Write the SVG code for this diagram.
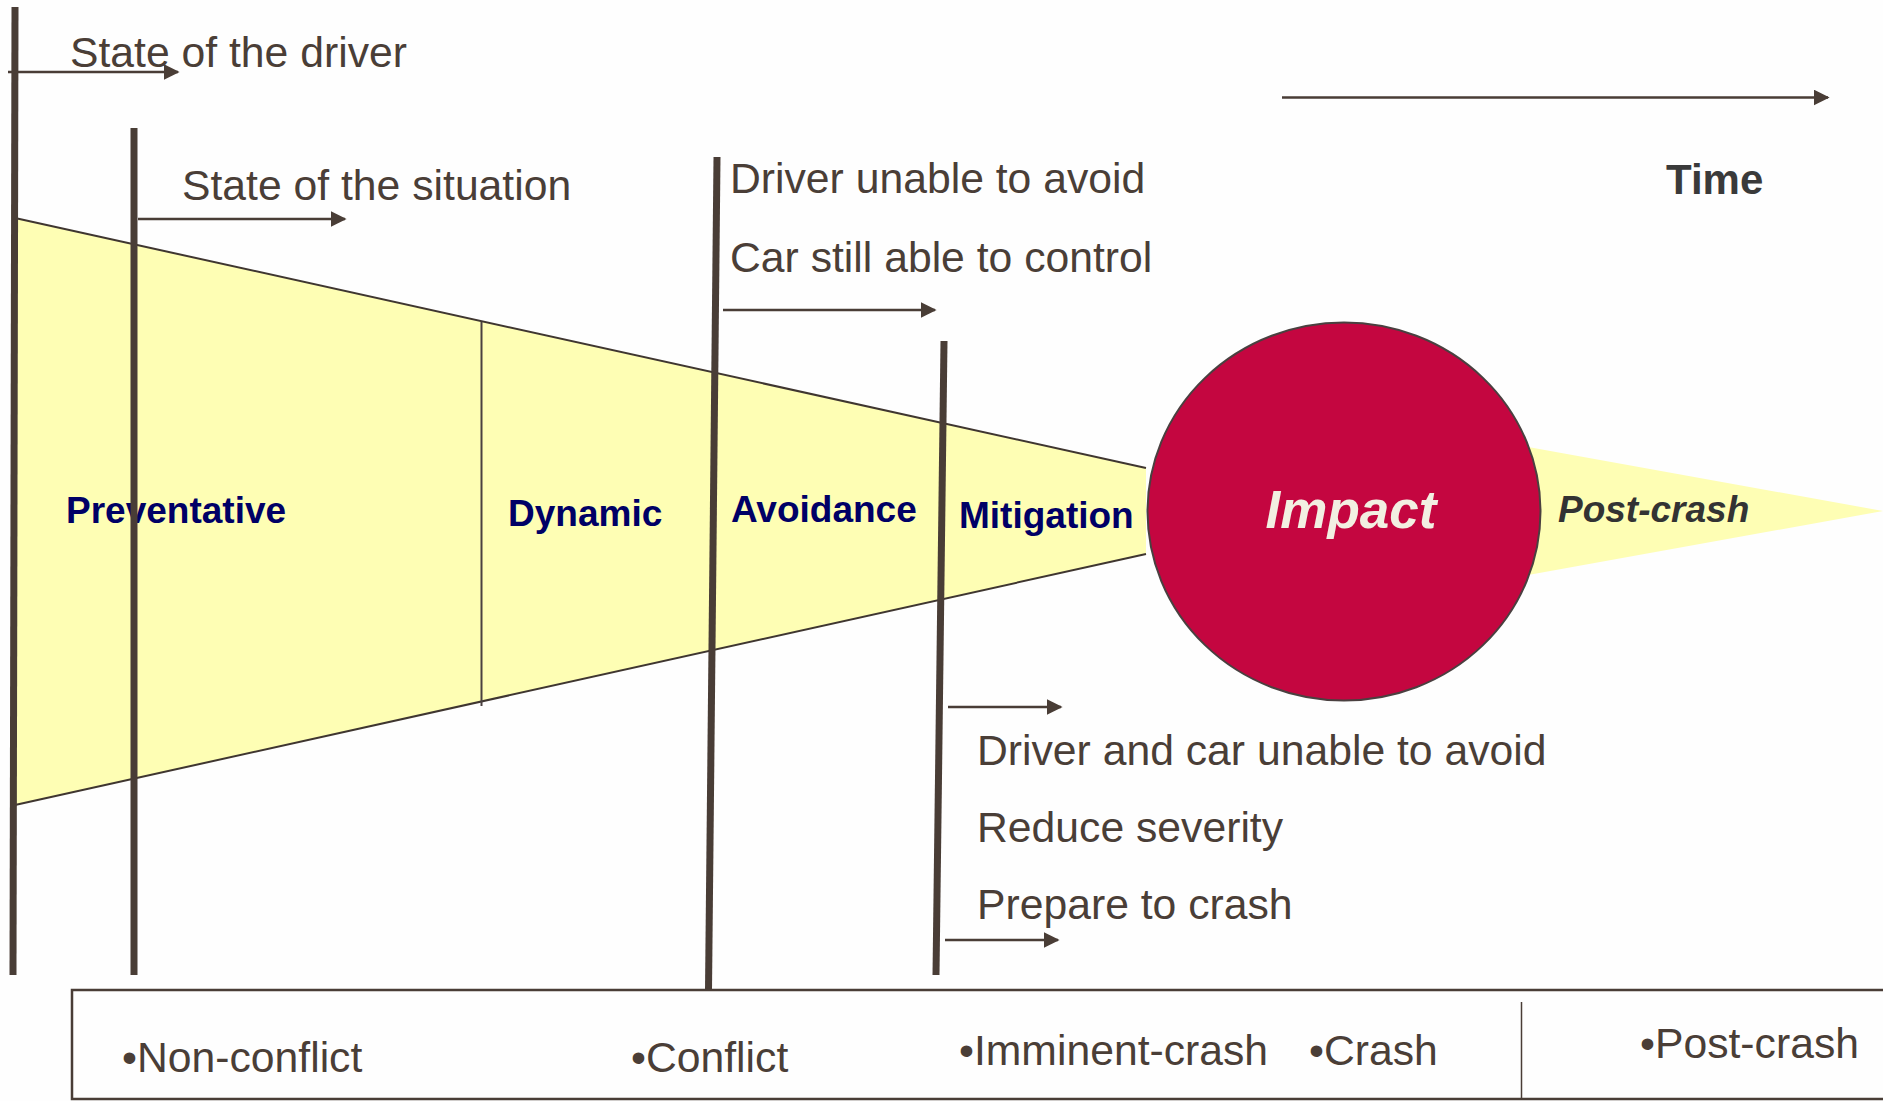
<svg xmlns="http://www.w3.org/2000/svg" width="1883" height="1101" viewBox="0 0 1883 1101">
<style>
.t{font-family:"Liberation Sans",Arial,sans-serif;font-size:42.7px;fill:#4a3e37}
.cat{font-family:"Liberation Sans",Arial,sans-serif;font-weight:bold;font-size:37px;fill:#000066}
.bar{stroke:#493d36;stroke-width:7;fill:none}
.arr{stroke:#493d36;stroke-width:2.5;fill:none;marker-end:url(#ah)}
.edge{stroke:#3f3630;stroke-width:2;fill:none}
</style>
<defs>
<marker id="ah" viewBox="0 0 10 10" refX="9" refY="5" markerUnits="userSpaceOnUse" markerWidth="16" markerHeight="16" orient="auto">
<path d="M0,0 L10,5 L0,10 z" fill="#493d36"/>
</marker>
</defs>
<rect width="1883" height="1101" fill="#fefefe"/>

<g id="funnel">
<polygon points="15,218 1146,468 1146,554 15,805" fill="#fefeb4"/>
<polyline class="edge" points="15,218 1146,468"/>
<polyline class="edge" points="15,805 1146,554"/>
<line x1="481.5" y1="322" x2="481.5" y2="706" stroke="#4a4040" stroke-width="2"/>
</g>

<g id="postcrash-wedge">
<polygon points="1500,442 1883,511 1500,580" fill="#fefeb4"/>
</g>

<g id="impact">
<ellipse cx="1344" cy="511.5" rx="196.5" ry="189" fill="#c40640" stroke="#4a4040" stroke-width="2"/>
<text x="1351" y="528" text-anchor="middle" font-family="Liberation Sans, Arial, sans-serif" font-weight="bold" font-style="italic" font-size="53" fill="#f2f0e2">Impact</text>
</g>

<g id="labels">
<text class="cat" x="66" y="523">Preventative</text>
<text class="cat" x="508" y="526">Dynamic</text>
<text class="cat" x="731" y="522">Avoidance</text>
<text class="cat" x="959" y="528">Mitigation</text>
<text x="1558" y="522" font-family="Liberation Sans, Arial, sans-serif" font-weight="bold" font-style="italic" font-size="37" fill="#333333">Post-crash</text>
<text x="1666" y="194" font-family="Liberation Sans, Arial, sans-serif" font-weight="bold" font-size="42" fill="#3a3a3a">Time</text>
</g>

<g id="bars">
<line class="bar" x1="15" y1="7" x2="13" y2="975"/>
<line class="bar" x1="134" y1="128" x2="134" y2="975"/>
<line class="bar" x1="717" y1="157" x2="708.5" y2="990"/>
<line class="bar" x1="944" y1="341" x2="936" y2="975"/>
</g>

<g id="connectors">
<line class="arr" x1="8" y1="72" x2="178" y2="72"/>
<line class="arr" x1="138" y1="219" x2="345" y2="219"/>
<line class="arr" x1="723" y1="310" x2="935" y2="310"/>
<line class="arr" x1="948" y1="707" x2="1061" y2="707"/>
<line class="arr" x1="945" y1="940" x2="1058" y2="940"/>
<line class="arr" x1="1282" y1="97.5" x2="1828" y2="97.5"/>
</g>

<g id="texts">
<text class="t" x="70" y="67">State of the driver</text>
<text class="t" x="182" y="200">State of the situation</text>
<text class="t" x="730" y="193">Driver unable to avoid</text>
<text class="t" x="730" y="272">Car still able to control</text>
<text class="t" x="977" y="765">Driver and car unable to avoid</text>
<text class="t" x="977" y="842">Reduce severity</text>
<text class="t" x="977" y="919">Prepare to crash</text>
</g>

<g id="phases">
<path d="M1883,990 L72,990 L72,1099 L1883,1099" fill="none" stroke="#493d36" stroke-width="2.5"/>
<line x1="1521.5" y1="1002" x2="1521.5" y2="1099" stroke="#493d36" stroke-width="1.5"/>
<text class="t" x="122" y="1072">•Non-conflict</text>
<text class="t" x="631" y="1072">•Conflict</text>
<text class="t" x="959" y="1065">•Imminent-crash</text>
<text class="t" x="1309" y="1065">•Crash</text>
<text class="t" x="1640" y="1058">•Post-crash</text>
</g>
</svg>
